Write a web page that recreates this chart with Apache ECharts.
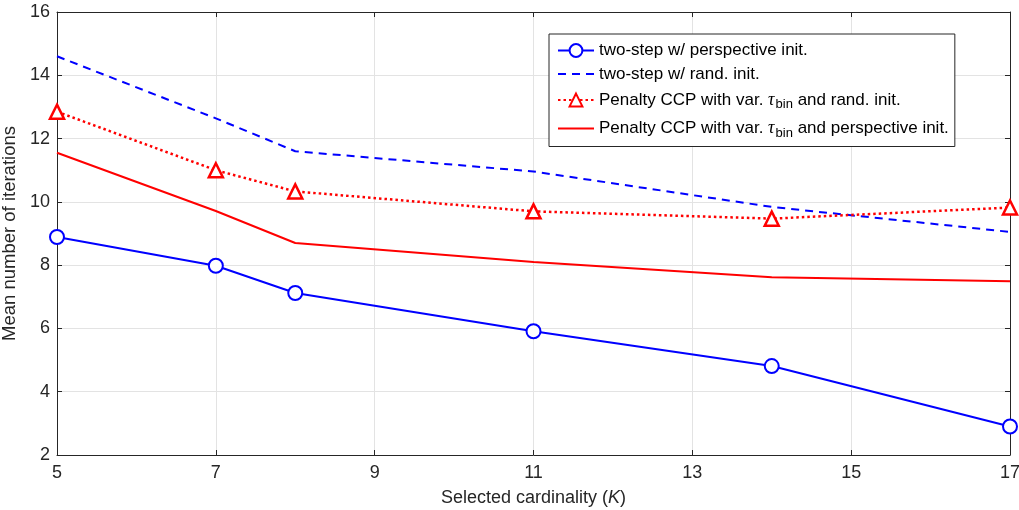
<!DOCTYPE html>
<html>
<head>
<meta charset="utf-8">
<script src="https://cdn.jsdelivr.net/npm/echarts@6/dist/echarts.min.js"></script>
<style>
  html, body { margin: 0; padding: 0; background: #fff; }
  #main { width: 1019px; height: 510px; }
</style>
</head>
<body>
<div id="main"></div>
<script>
// data
var kValues = [5, 7, 8, 11, 14, 17];
var twoStepPersp = [8.89, 7.98, 7.12, 5.91, 4.81, 2.9];
var twoStepRand = [14.6, 12.64, 11.6, 10.96, 9.84, 9.05];
var ccpRand = [12.85, 11.0, 10.33, 9.7, 9.47, 9.82];
var ccpPersp = [11.55, 9.71, 8.7, 8.1, 7.62, 7.49];

var seriesNames = [
  'two-step w/ perspective init.',
  'two-step w/ rand. init.',
  'Penalty CCP with var. tau_bin and rand. init.',
  'Penalty CCP with var. tau_bin and perspective init.'
];

function pairs(ys) {
  return kValues.map(function (k, i) { return [k, ys[i]]; });
}

var axisColor = '#262626';
var fontFam = 'Liberation Sans, Arial, sans-serif';

var dom = document.getElementById('main');
var myChart = echarts.init(dom);

var baseX = {
  type: 'value', min: 5, max: 17, interval: 2,
  axisLine: { show: true, onZero: false, lineStyle: { color: axisColor, width: 1 } },
  axisTick: { show: true, inside: true, length: 5, lineStyle: { color: axisColor } }
};
var baseY = {
  type: 'value', min: 2, max: 16, interval: 2,
  axisLine: { show: true, onZero: false, lineStyle: { color: axisColor, width: 1 } },
  axisTick: { show: true, inside: true, length: 5, lineStyle: { color: axisColor } }
};

var option = {
  animation: false,
  backgroundColor: '#fff',
  grid: { left: 57, right: 9, top: 12, bottom: 55, outerBoundsMode: 'none', containLabel: false },
  xAxis: [
    Object.assign({}, baseX, {
      position: 'bottom',
      name: 'Selected cardinality ({i|K})',
      nameLocation: 'middle',
      nameGap: 34,
      nameTextStyle: {
        color: axisColor, fontSize: 18, fontFamily: fontFam,
        rich: { i: { fontStyle: 'italic', fontSize: 18, color: axisColor, fontFamily: fontFam } }
      },
      axisLabel: { color: axisColor, fontSize: 18, fontFamily: fontFam, margin: 9 },
      splitLine: { show: true, lineStyle: { color: '#e3e3e3', width: 1 } }
    }),
    Object.assign({}, baseX, {
      position: 'top',
      axisLabel: { show: false },
      splitLine: { show: false }
    })
  ],
  yAxis: [
    Object.assign({}, baseY, {
      position: 'left',
      name: 'Mean number of iterations',
      nameLocation: 'middle',
      nameGap: 31,
      nameTextStyle: { color: axisColor, fontSize: 18.5, fontFamily: fontFam },
      axisLabel: { color: axisColor, fontSize: 18, fontFamily: fontFam, margin: 7 },
      splitLine: { show: true, lineStyle: { color: '#e3e3e3', width: 1 } }
    }),
    Object.assign({}, baseY, {
      position: 'right',
      axisLabel: { show: false },
      splitLine: { show: false }
    })
  ],
  legend: {
    orient: 'vertical',
    left: 549,
    top: 34,
    padding: [8, 6, 7, 8],
    itemGap: 6.5,
    itemWidth: 36,
    itemHeight: 16,
    backgroundColor: '#fff',
    borderColor: axisColor,
    borderWidth: 1,
    data: [
      { name: seriesNames[0] },
      { name: seriesNames[1], itemStyle: { opacity: 0 } },
      { name: seriesNames[2] },
      { name: seriesNames[3], itemStyle: { opacity: 0 } }
    ],
    formatter: function (name) {
      return name.replace('tau_bin', '{tau|\u03c4}{sub|bin}');
    },
    textStyle: {
      color: '#000', fontSize: 17, fontFamily: fontFam,
      rich: {
        tau: { fontStyle: 'italic', fontFamily: 'Liberation Serif, serif', fontSize: 18, color: '#000', padding: [0, 1, 0, 0] },
        sub: { fontSize: 13, lineHeight: 28, fontFamily: fontFam, color: '#000', padding: [9, 0, 0, 0] }
      }
    }
  },
  series: [
    {
      name: seriesNames[0], type: 'line', data: pairs(twoStepPersp),
      symbol: 'circle', symbolSize: 14,
      lineStyle: { color: '#0000ff', width: 2 },
      itemStyle: { color: '#fff', borderColor: '#0000ff', borderWidth: 2 },
      z: 3
    },
    {
      name: seriesNames[1], type: 'line', data: pairs(twoStepRand),
      symbol: 'none', showSymbol: false,
      lineStyle: { color: '#0000ff', width: 2, type: [8, 6] },
      itemStyle: { color: '#0000ff' },
      z: 2
    },
    {
      name: seriesNames[2], type: 'line', data: pairs(ccpRand),
      symbol: 'triangle', symbolSize: 14,
      lineStyle: { color: '#ff0000', width: 2.5, type: [2.5, 3] },
      itemStyle: { color: '#fff', borderColor: '#ff0000', borderWidth: 2.5 },
      z: 4
    },
    {
      name: seriesNames[3], type: 'line', data: pairs(ccpPersp),
      symbol: 'none', showSymbol: false,
      lineStyle: { color: '#ff0000', width: 2 },
      itemStyle: { color: '#ff0000' },
      z: 2
    }
  ]
};

if (option && typeof option === 'object') {
  myChart.setOption(option, true);
}
</script>
</body>
</html>
